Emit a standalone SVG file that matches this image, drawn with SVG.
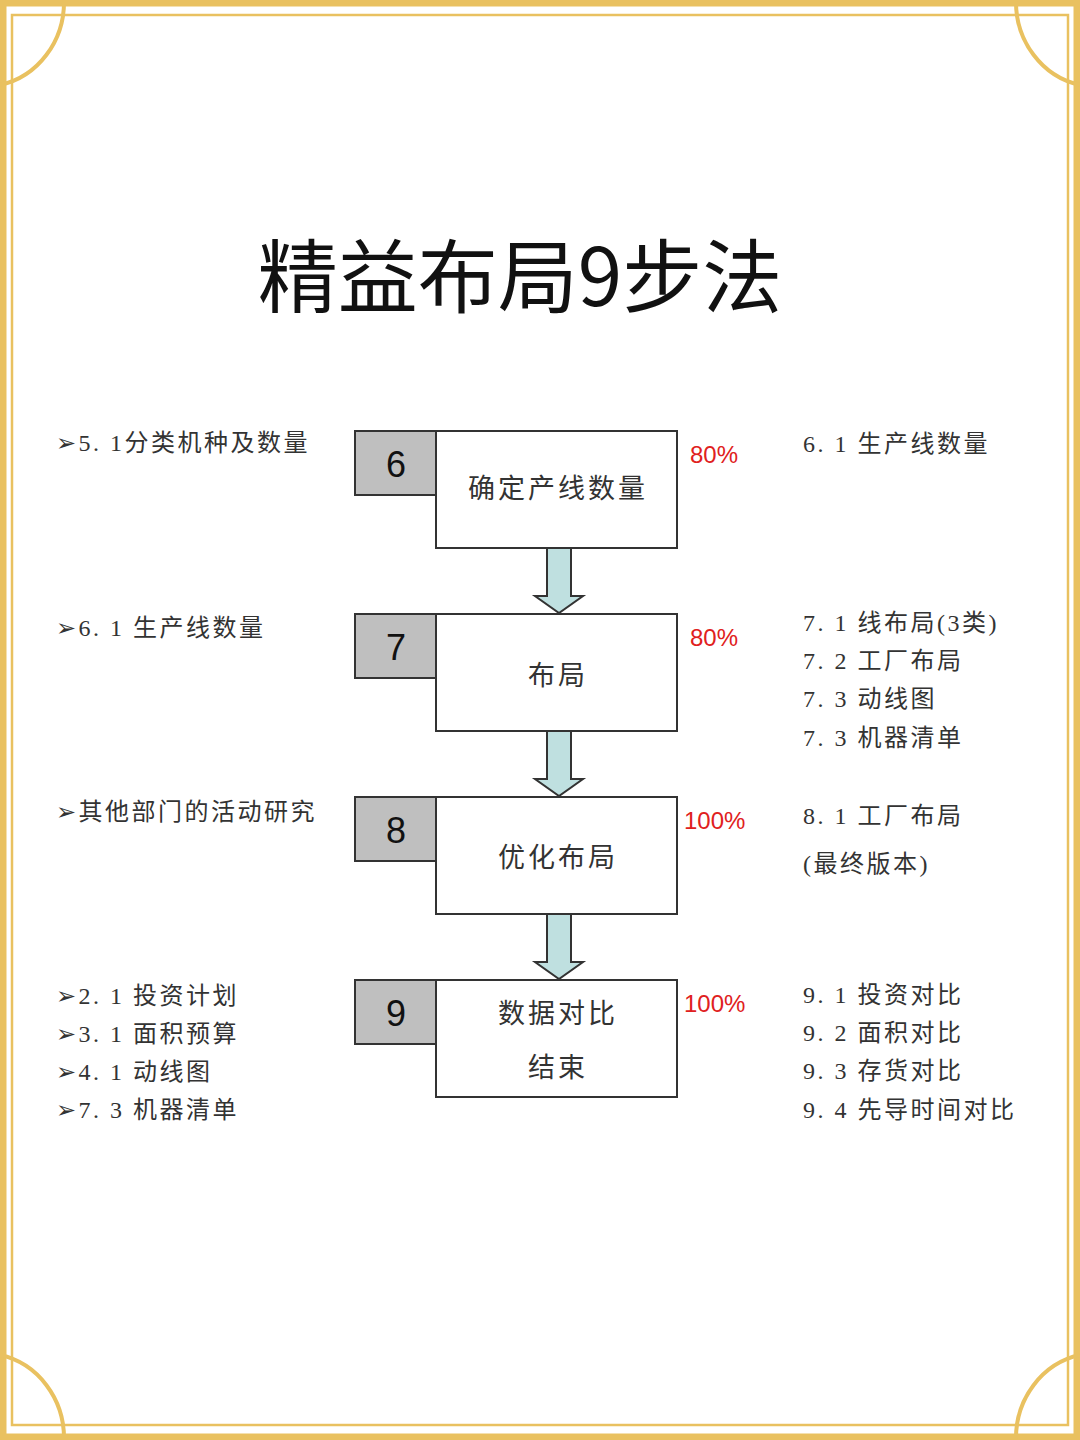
<svg xmlns="http://www.w3.org/2000/svg" width="1080" height="1440" viewBox="0 0 1080 1440">
<style>
.g{fill:#bfbfbf;stroke:#333;stroke-width:2}
.w{fill:#fff;stroke:#333;stroke-width:2}
.n{font-family:"Liberation Sans",Arial,sans-serif;font-size:36px;fill:#111;text-anchor:middle}
.t{font-family:"Liberation Serif","Noto Sans CJK SC",serif;font-size:27px;fill:#333;text-anchor:middle;letter-spacing:3px}
.s{font-family:"Liberation Serif","Noto Sans CJK SC",serif;font-size:24px;fill:#333;letter-spacing:2.5px}
.p{font-family:"Liberation Sans",Arial,sans-serif;font-size:24px;fill:#e02020}
.a{fill:#bfe0e0;stroke:#333;stroke-width:2}
.gold{fill:none;stroke:#e9c160}
</style>
<rect width="1080" height="1440" fill="#fff"/>
<rect x="3" y="3" width="1074" height="1434" class="gold" stroke-width="7"/>
<rect x="12" y="15" width="1056" height="1410" class="gold" stroke-width="2.5"/>
<g class="gold" stroke-width="4">
<path d="M64,0 A80 85 0 0 1 0,85"/>
<path d="M1016,0 A80 85 0 0 0 1080,85"/>
<path d="M64,1440 A80 85 0 0 0 0,1355"/>
<path d="M1016,1440 A80 85 0 0 1 1080,1355"/>
</g>
<text x="520" y="306" font-family="'Noto Sans CJK SC',sans-serif" font-size="80" fill="#111" text-anchor="middle">精益布局9步法</text>
<g id="connectors">
<path class="a" d="M547,548 V596 H535 L559,613 L583,596 H571 V548 Z"/>
<path class="a" d="M547,731 V779 H535 L559,796 L583,779 H571 V731 Z"/>
<path class="a" d="M547,914 V962 H535 L559,979 L583,962 H571 V914 Z"/>
</g>
<g id="n6"><rect class="w" x="436" y="431" width="241" height="117"/><rect class="g" x="355" y="431" width="81" height="64"/><text class="n" x="396" y="477">6</text><text class="t" x="558" y="498">确定产线数量</text></g>
<g id="n7"><rect class="w" x="436" y="614" width="241" height="117"/><rect class="g" x="355" y="614" width="81" height="64"/><text class="n" x="396" y="660">7</text><text class="t" x="558" y="685">布局</text></g>
<g id="n8"><rect class="w" x="436" y="797" width="241" height="117"/><rect class="g" x="355" y="797" width="81" height="64"/><text class="n" x="396" y="843">8</text><text class="t" x="558" y="867">优化布局</text></g>
<g id="n9"><rect class="w" x="436" y="980" width="241" height="117"/><rect class="g" x="355" y="980" width="81" height="64"/><text class="n" x="396" y="1026">9</text><text class="t" x="558" y="1023">数据对比</text><text class="t" x="558" y="1077">结束</text></g>
<text class="p" x="690" y="463">80%</text>
<text class="p" x="690" y="646">80%</text>
<text class="p" x="684" y="829">100%</text>
<text class="p" x="684" y="1012">100%</text>
<g class="s">
<text x="56" y="451">➢5. 1分类机种及数量</text>
<text x="56" y="636">➢6. 1 生产线数量</text>
<text x="56" y="820">➢其他部门的活动研究</text>
<text x="56" y="1004">➢2. 1 投资计划</text>
<text x="56" y="1042">➢3. 1 面积预算</text>
<text x="56" y="1080">➢4. 1 动线图</text>
<text x="56" y="1118">➢7. 3 机器清单</text>
<text x="803" y="452">6. 1 生产线数量</text>
<text x="803" y="631">7. 1 线布局(3类)</text>
<text x="803" y="669">7. 2 工厂布局</text>
<text x="803" y="707">7. 3 动线图</text>
<text x="803" y="746">7. 3 机器清单</text>
<text x="803" y="824">8. 1 工厂布局</text>
<text x="803" y="872">(最终版本)</text>
<text x="803" y="1003">9. 1 投资对比</text>
<text x="803" y="1041">9. 2 面积对比</text>
<text x="803" y="1079">9. 3 存货对比</text>
<text x="803" y="1118">9. 4 先导时间对比</text>
</g>
</svg>
